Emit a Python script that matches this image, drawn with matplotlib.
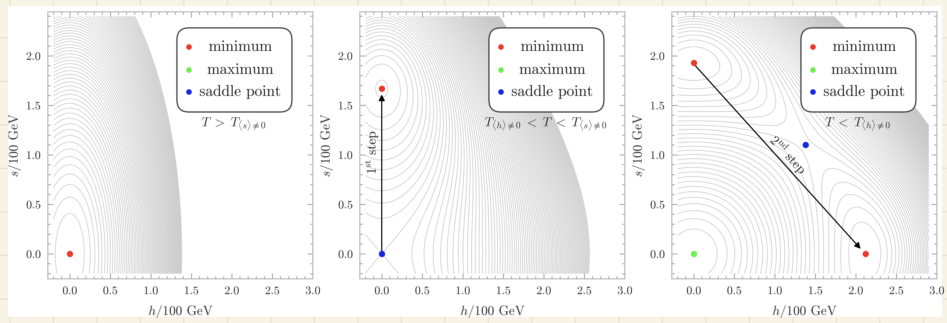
import io
import matplotlib.pyplot as plt
import numpy as np
from matplotlib.patches import FancyBboxPatch, Rectangle
from matplotlib.lines import Line2D

plt.rcParams['font.family'] = 'serif'
plt.rcParams['font.serif'] = ['cmr10']
plt.rcParams['mathtext.fontset'] = 'cm'
plt.rcParams['axes.formatter.use_mathtext'] = True

# potential V = m_h2 h^2 + m_s2 s^2 + lam_h h^4 + lam_s s^4 + lam_hs h^2 s^2
# one entry per panel (three temperatures)
m_h2 = [31.0, 5.0, -8.99]
m_s2 = [6.0, -5.58, -12.06]
lam_h = [3.0, 0.57, 1.0]
lam_s = [0.21, 1.0, 1.62]
lam_hs = [2.0, 3.57, 4.28]
v_step = [1.0, 0.7, 0.75]
v_max = [70.0, 57.3, 40.0]

h_range = [-0.2, 2.9]
s_range = [-0.2, 2.4]

# stationary points (h, s)
minima = [[(0.0, 0.0)], [(0.0, 1.67)], [(0.0, 1.93), (2.12, 0.0)]]
maxima = [[], [], [(0.0, 0.0)]]
saddles = [[], [(0.0, 0.0)], [(1.38, 1.1)]]

temp_labels = [r'$T\;>\;T_{\langle s\rangle\neq 0}$',
               r'$T_{\langle h\rangle\neq 0}\;<\;T\;<\;T_{\langle s\rangle\neq 0}$',
               r'$T\;<\;T_{\langle h\rangle\neq 0}$']

legend_names = ['minimum', 'maximum', 'saddle point']
c_min, c_max, c_sad = '#e8392a', '#6def55', '#1426e0'

W, H = 947, 323
SS = 4  # supersampling factor, filtered down at the end
fig = plt.figure(figsize=(W / 100, H / 100), dpi=100)
fig.patch.set_facecolor('#f7f4e6')

# paper grid behind the white sheet
for gx in np.arange(10, W, 43.5):
    fig.add_artist(Line2D([gx / W, gx / W], [0, 1], color='#e6e1c9', lw=0.8, zorder=-10))
for gy in np.arange(38, H, 43.5):
    fig.add_artist(Line2D([0, 1], [1 - gy / H, 1 - gy / H], color='#e6e1c9', lw=0.8, zorder=-10))
fig.add_artist(Rectangle((8 / W, 1 - 317 / H), (942 - 8) / W, (317 - 6) / H,
                         facecolor='white', edgecolor='none', zorder=-5))

hh = np.linspace(h_range[0], h_range[1], 1000)
ss = np.linspace(s_range[0], s_range[1], 900)
Hg, Sg = np.meshgrid(hh, ss)

lefts = [48, 360, 672]
for i in range(3):
    ax = fig.add_axes([lefts[i] / W, (H - 279) / H, 265 / W, 267 / H])
    V = (m_h2[i] * Hg**2 + m_s2[i] * Sg**2 + lam_h[i] * Hg**4
         + lam_s[i] * Sg**4 + lam_hs[i] * Hg**2 * Sg**2)
    vmin = V.min()
    k0 = np.floor(vmin / v_step[i]) + 1
    levels = np.arange(k0, v_max[i] / v_step[i] + 0.5) * v_step[i]
    ax.contour(Hg, Sg, V, levels=levels, colors='#c6c6c6', linewidths=0.45,
               linestyles='solid')

    if i == 1:
        ax.annotate('', xy=(0.0, 1.61), xytext=(0.0, 0.0),
                    arrowprops=dict(arrowstyle='-|>', color='black', lw=0.8,
                                    mutation_scale=9, shrinkA=0, shrinkB=0))
        ax.text(-0.12, 1.02, r'1$^{\mathrm{st}}$ step', rotation=90,
                ha='center', va='center', fontsize=9.5, color='#222222')
    if i == 2:
        ax.annotate('', xy=(2.06, 0.05), xytext=(0.02, 1.9),
                    arrowprops=dict(arrowstyle='-|>', color='black', lw=0.8,
                                    mutation_scale=9, shrinkA=0, shrinkB=0))
        ax.text(1.16, 1.0, r'2$^{\mathrm{nd}}$ step', rotation=-47.5,
                ha='center', va='center', fontsize=9.5, color='#222222')

    for pts, col in [(minima[i], c_min), (maxima[i], c_max), (saddles[i], c_sad)]:
        if pts:
            ax.plot([p[0] for p in pts], [p[1] for p in pts], 'o', color=col,
                    ms=4.5, mec='none', zorder=5)

    ax.set_xlim(-0.27, 3.0)
    ax.set_ylim(-0.253, 2.444)
    ax.set_xticks(np.arange(0, 3.01, 0.5))
    ax.set_yticks(np.arange(0, 2.01, 0.5))
    ax.set_xticks(np.arange(-0.2, 3.01, 0.1), minor=True)
    ax.set_yticks(np.arange(-0.2, 2.41, 0.1), minor=True)
    ax.xaxis.set_major_formatter(plt.FormatStrFormatter('%.1f'))
    ax.yaxis.set_major_formatter(plt.FormatStrFormatter('%.1f'))
    ax.tick_params(which='both', direction='in', top=True, right=True,
                   color='#999999', labelcolor='#333333', labelsize=8.5, width=0.6)
    ax.tick_params(which='major', length=4, pad=5)
    ax.tick_params(which='minor', length=2)
    for sp in ax.spines.values():
        sp.set_color('#b0b0b0')
        sp.set_linewidth(0.7)
    ax.set_xlabel(r'$h/100$ GeV', fontsize=9.5, color='#333333', labelpad=6)
    ax.set_ylabel(r'$s/100$ GeV', fontsize=9.5, color='#333333', labelpad=3)

    # legend box
    box = FancyBboxPatch((0.487, 0.625), 0.434, 0.315,
                         boxstyle='round,pad=0,rounding_size=0.045',
                         transform=ax.transAxes, facecolor='white',
                         edgecolor='#444444', lw=0.9, zorder=6)
    ax.add_patch(box)
    for name, col, yy in zip(legend_names, [c_min, c_max, c_sad], [0.869, 0.783, 0.700]):
        ax.plot([0.532], [yy], 'o', color=col, ms=4, mec='none',
                transform=ax.transAxes, zorder=7)
        ax.text(0.726, yy, name, transform=ax.transAxes, ha='center', va='center',
                fontsize=11, color='#222222', zorder=7)
    ax.text(0.70, 0.58, temp_labels[i], transform=ax.transAxes, ha='center',
            va='center', fontsize=9.5, color='#333333', zorder=7)

# render large, then tent-filter and subsample so dense contour bands become smooth grey
buf = io.BytesIO()
fig.savefig(buf, dpi=100 * SS, facecolor=fig.get_facecolor(), format='png')
buf.seek(0)
img = plt.imread(buf)[:, :, :3].astype(float)
kern = np.concatenate([np.arange(1, SS + 1), np.arange(SS - 1, 0, -1)]).astype(float)
kern /= kern.sum()
r = SS - 1
for axis in (0, 1):
    pad = [(0, 0)] * 3
    pad[axis] = (r, r)
    p = np.pad(img, pad, mode='edge')
    n = img.shape[axis]
    acc = np.zeros_like(img)
    for j, wgt in enumerate(kern):
        sl = [slice(None)] * 3
        sl[axis] = slice(j, j + n)
        acc += wgt * p[tuple(sl)]
    img = acc
off = SS // 2
small = img[off::SS, off::SS][:H, :W]
plt.imsave('out.png', np.clip(small, 0, 1))
